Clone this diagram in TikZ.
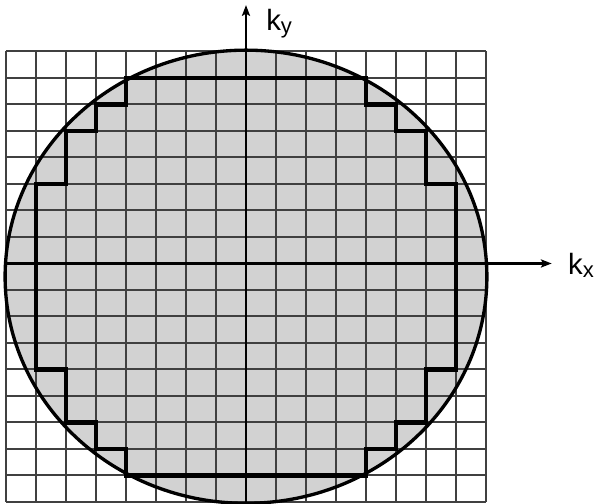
\documentclass[tikz,border=0pt]{standalone}
\usepackage{fontspec}
\setmainfont{Liberation Sans}
\usetikzlibrary{arrows.meta}
\definecolor{diskgray}{RGB}{210,210,210}

\begin{document}
\begin{tikzpicture}[
        x=22.5pt, y=19.875pt,
        gridline/.style={line width=1.5pt, draw=black!75},
        axis/.style={-{Stealth[length=8pt, width=6pt, inset=1.5pt]}, line width=2pt},
        stair/.style={line width=3.5pt, line join=miter},
        rim/.style={line width=2.5pt},
        axislabel/.style={font=\fontsize{22}{26}\selectfont, inner sep=0pt, anchor=base west}
    ]
        \useasboundingbox (-0.2,-0.0755) rectangle (19.667,18.943);

        % Disk
        \fill[diskgray] (8,8.5) ellipse [x radius=8.03, y radius=8.55];

        % Grid
        \foreach \i in {0,...,16} \draw[gridline] (\i,0) -- (\i,17);
        \foreach \j in {0,...,17} \draw[gridline] (0,\j) -- (16,\j);

        % Axes
        \coordinate (xstart) at (0,9);
        \coordinate (xend) at (18.19,9);
        \coordinate (ystart) at (8,0);
        \coordinate (yend) at (8,18.75);
        \draw[axis] (xstart) -- (xend);
        \draw[axis] (ystart) -- (yend);

        % Staircase
        \draw[stair] (4,16) -- (4,15) -- (3,15) -- (3,14) -- (2,14) -- (2,12) -- (1,12)
            -- (1,5) -- (2,5) -- (2,3) -- (3,3) -- (3,2) -- (4,2) -- (4,1)
            -- (12,1) -- (12,2) -- (13,2) -- (13,3) -- (14,3) -- (14,5) -- (15,5)
            -- (15,12) -- (14,12) -- (14,14) -- (13,14) -- (13,15) -- (12,15) -- (12,16) -- cycle;

        % Disk boundary
        \draw[rim] (8,8.5) ellipse [x radius=8.03, y radius=8.55];

        % Labels
        \node[axislabel] (ky) at (8.667,17.81)
            {k\raisebox{-2.7pt}{\fontsize{16.5}{18}\selectfont y}};
        \node[axislabel] (kx) at (18.73,8.6)
            {k\raisebox{-2.7pt}{\fontsize{16.5}{18}\selectfont x}};
    \end{tikzpicture}
\end{document}
